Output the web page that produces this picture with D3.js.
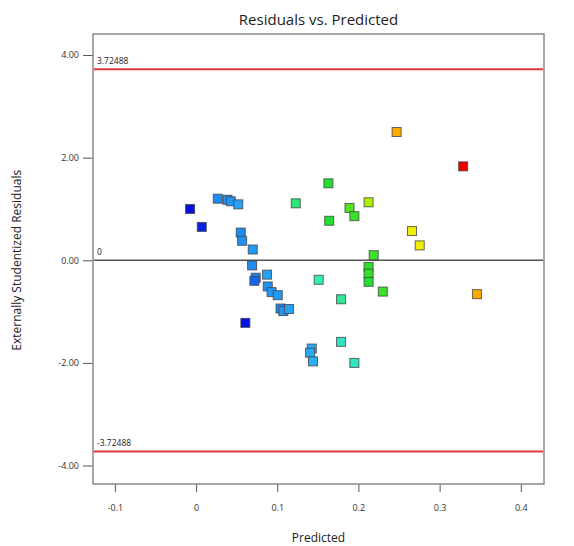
<!DOCTYPE html>
<html lang="en">
	<head>
		<meta charset="utf-8">
		<script src="https://d3js.org/d3.v7.min.js"></script>
		<style>
			body { margin: 0; background: #fff; }
			text { font-family: "Open Sans", "Noto Sans", sans-serif; }
		</style>
	</head>
	<body>
		<script type="text/javascript">

			// data
			var predicted = [-0.0074, 0.007, 0.0267, 0.0386, 0.0427, 0.052, 0.055, 0.0567, 0.0698, 0.069,
				0.0735, 0.0718, 0.0874, 0.0883, 0.093, 0.1006, 0.104, 0.1075, 0.1145, 0.0607,
				0.1228, 0.247, 0.163, 0.189, 0.195, 0.164, 0.2125, 0.2188, 0.2125, 0.2125,
				0.2125, 0.23, 0.151, 0.1786, 0.1786, 0.195, 0.1425, 0.1404, 0.144, 0.329,
				0.266, 0.2755, 0.346];
			var residuals = [1.00, 0.65, 1.20, 1.18, 1.15, 1.09, 0.54, 0.38, 0.21, -0.10,
				-0.34, -0.40, -0.28, -0.51, -0.62, -0.68, -0.94, -0.99, -0.95, -1.22,
				1.11, 2.50, 1.50, 1.02, 0.86, 0.77, 1.13, 0.10, -0.13, -0.26,
				-0.42, -0.61, -0.38, -0.76, -1.59, -2.00, -1.72, -1.80, -1.97, 1.83,
				0.57, 0.29, -0.66];
			// response level used for the colour of each square
			var actual = [0.01, 0.02, 0.085, 0.09, 0.095, 0.11, 0.085, 0.09, 0.10, 0.085,
				0.08, 0.06, 0.11, 0.09, 0.095, 0.10, 0.085, 0.09, 0.11, 0.01,
				0.175, 0.32, 0.19, 0.21, 0.20, 0.19, 0.25, 0.20, 0.195, 0.195,
				0.19, 0.20, 0.16, 0.168, 0.155, 0.155, 0.12, 0.12, 0.125, 0.38,
				0.28, 0.28, 0.32];
			var xTicks = [-0.1, 0, 0.1, 0.2, 0.3, 0.4];
			var yTicks = [-4, -2, 0, 2, 4];
			var limit = 3.72488;

			var w = 574;
			var h = 546;
			var mLeft = 93, mRight = 544, mTop = 34, mBottom = 484;

			var x = d3.scaleLinear().domain([-0.127, 0.4286]).range([mLeft, mRight]);
			var y = d3.scaleLinear().domain([-4.36, 4.41]).range([mBottom, mTop]);

			var color = d3.scaleLinear()
				.domain([0, 0.08, 0.13, 0.16, 0.19, 0.24, 0.28, 0.32, 0.38])
				.range(["#0000dd", "#1e88f5", "#28b4f4", "#33eebb", "#22e030", "#99ee00", "#eeee00", "#ffaa00", "#ee0000"]);

			var hyphen = function(f) {
				return function(d) { return f(d).replace("\u2212", "-"); };
			};

			var svg = d3.select("body")
						.append("svg")
						.attr("width", w)
						.attr("height", h);

			// title
			svg.append("text")
				.attr("x", (mLeft + mRight) / 2)
				.attr("y", 25)
				.attr("text-anchor", "middle")
				.style("font-size", "15px")
				.style("fill", "#222")
				.text("Residuals vs. Predicted");

			// axes
			var xAxis = d3.axisBottom(x).tickValues(xTicks).tickSize(8).tickFormat(hyphen(d3.format("~g")));
			var gx = svg.append("g")
				.attr("transform", "translate(0," + mBottom + ")")
				.call(xAxis);
			gx.select(".domain").remove();
			gx.selectAll("line").attr("stroke", "#555");
			gx.selectAll("text").attr("dy", "1.8em").style("font-size", "9px").style("fill", "#333");

			var yAxis = d3.axisLeft(y).tickValues(yTicks).tickSize(10).tickFormat(hyphen(d3.format(".2f")));
			var gy = svg.append("g")
				.attr("transform", "translate(" + mLeft + ",0)")
				.call(yAxis);
			gy.select(".domain").remove();
			gy.selectAll("line").attr("stroke", "#555");
			gy.selectAll("text").attr("x", -14).style("font-size", "9px").style("fill", "#333");

			// frame
			svg.append("rect")
				.attr("x", mLeft)
				.attr("y", mTop)
				.attr("width", mRight - mLeft)
				.attr("height", mBottom - mTop)
				.attr("fill", "none")
				.attr("stroke", "#8a8a8a")
				.attr("stroke-width", 1.5);

			// reference lines
			[limit, -limit].forEach(function(v) {
				svg.append("line")
					.attr("x1", mLeft + 1).attr("x2", mRight - 1)
					.attr("y1", y(v)).attr("y2", y(v))
					.attr("stroke", "#e03838")
					.attr("stroke-width", 2);
				svg.append("text")
					.attr("x", mLeft + 4)
					.attr("y", y(v) - 5)
					.style("font-size", "8.5px")
					.style("fill", "#222")
					.text(hyphen(d3.format(".6~g"))(v));
			});

			svg.append("line")
				.attr("x1", mLeft + 1).attr("x2", mRight - 1)
				.attr("y1", y(0)).attr("y2", y(0))
				.attr("stroke", "#555")
				.attr("stroke-width", 1.5);
			svg.append("text")
				.attr("x", mLeft + 4)
				.attr("y", y(0) - 5)
				.style("font-size", "8.5px")
				.style("fill", "#222")
				.text("0");

			// points
			var pts = predicted.map(function(p, i) {
				return { p: p, r: residuals[i], a: actual[i] };
			});
			var s = 9;
			svg.selectAll("rect.pt")
				.data(pts)
				.enter()
				.append("rect")
				.attr("class", "pt")
				.attr("x", function(d) { return x(d.p) - s / 2; })
				.attr("y", function(d) { return y(d.r) - s / 2; })
				.attr("width", s)
				.attr("height", s)
				.attr("fill", function(d) { return color(d.a); })
				.attr("stroke", "#444")
				.attr("stroke-opacity", 0.8)
				.attr("stroke-width", 1);

			// axis labels
			svg.append("text")
				.attr("x", (mLeft + mRight) / 2)
				.attr("y", 542)
				.attr("text-anchor", "middle")
				.style("font-size", "12px")
				.style("fill", "#222")
				.text("Predicted");

			svg.append("text")
				.attr("transform", "translate(21," + y(0) + ") rotate(-90)")
				.attr("text-anchor", "middle")
				.style("font-size", "12px")
				.style("fill", "#222")
				.text("Externally Studentized Residuals");

		</script>
	</body>
</html>
